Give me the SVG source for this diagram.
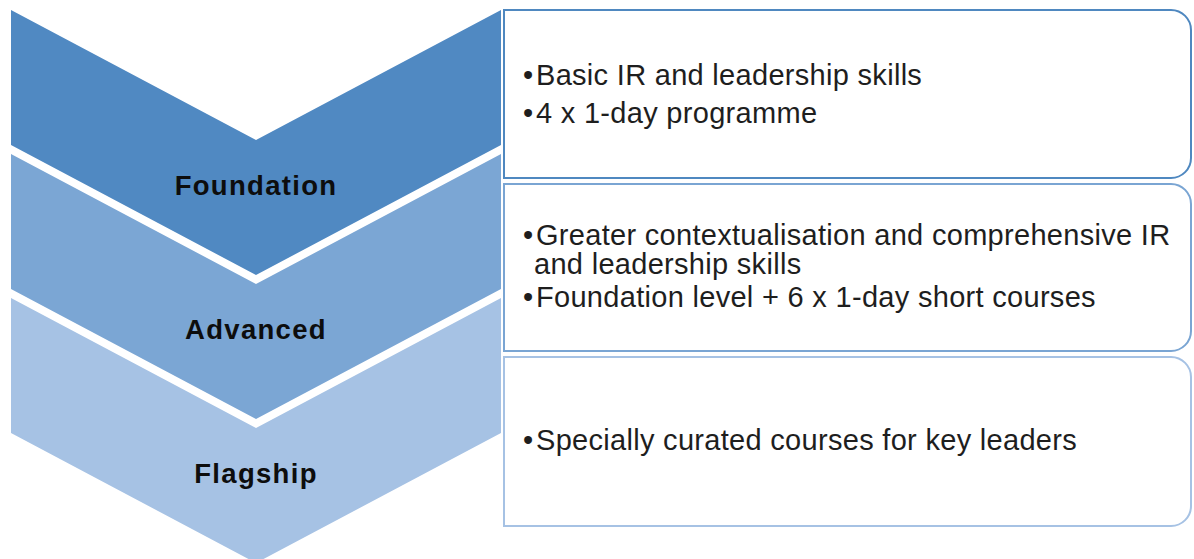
<svg xmlns="http://www.w3.org/2000/svg" width="1194" height="559" viewBox="0 0 1194 559">
  <style>
    .lbl { font-family: "Liberation Sans", Arial, sans-serif; font-weight: bold; font-size: 27.5px; letter-spacing: 1.3px; fill: #0d0d0d; text-anchor: middle; }
    .txt { font-family: "Liberation Sans", Arial, sans-serif; font-size: 29px; letter-spacing: 0.3px; fill: #1e1e1e; }
    .box { fill: #ffffff; stroke-width: 2; }
  </style>
  <rect width="1194" height="559" fill="#ffffff"/>
  <g id="flagship">
    <polygon points="11,298 256,428 501,298 501,433 256,563 11,433" fill="#a6c2e4"/>
    <text class="lbl" x="256" y="483">Flagship</text>
  </g>
  <g id="advanced">
    <polygon points="11,154 256,284 501,154 501,289 256,419 11,289" fill="#7ba6d4"/>
    <text class="lbl" x="256" y="339">Advanced</text>
  </g>
  <g id="foundation">
    <polygon points="11,10 256,140 501,10 501,145 256,275 11,145" fill="#5089c2"/>
    <text class="lbl" x="256" y="195">Foundation</text>
  </g>
  <g id="box-foundation">
    <path class="box" stroke="#4f88c0" d="M504,10 H1171 A20,20 0 0 1 1191,30 V158 A20,20 0 0 1 1171,178 H504 Z"/>
    <text class="txt" x="523" y="85">•<tspan x="536">Basic IR and leadership skills</tspan></text>
    <text class="txt" x="523" y="123">•<tspan x="536">4 x 1-day programme</tspan></text>
  </g>
  <g id="box-advanced">
    <path class="box" stroke="#7aa5d3" d="M504,184 H1171 A20,20 0 0 1 1191,204 V331 A20,20 0 0 1 1171,351 H504 Z"/>
    <text class="txt" x="523" y="245">•<tspan x="536">Greater contextualisation and comprehensive IR</tspan></text>
    <text class="txt" x="534" y="274">and leadership skills</text>
    <text class="txt" x="523" y="307">•<tspan x="536">Foundation level + 6 x 1-day short courses</tspan></text>
  </g>
  <g id="box-flagship">
    <path class="box" stroke="#a6c2e4" d="M504,357 H1171 A20,20 0 0 1 1191,377 V506 A20,20 0 0 1 1171,526 H504 Z"/>
    <text class="txt" x="523" y="450">•<tspan x="536">Specially curated courses for key leaders</tspan></text>
  </g>
  <g id="connectors"/>
</svg>
